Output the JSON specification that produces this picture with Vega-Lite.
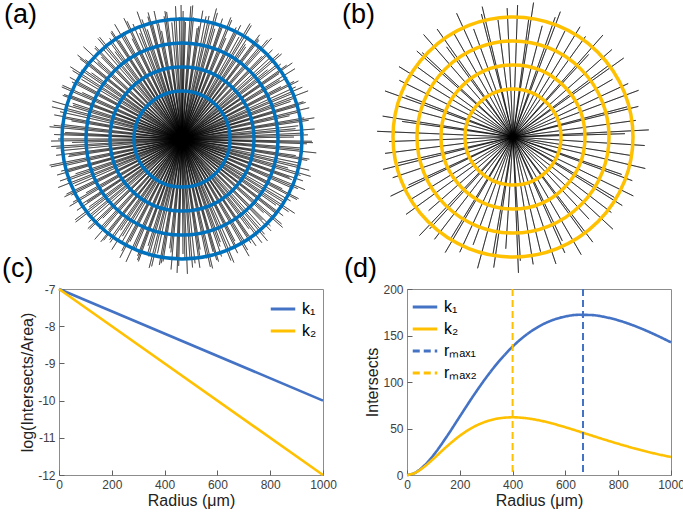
{
"$schema":"https://vega.github.io/schema/vega-lite/v6.json",
"padding":{"left":1,"top":1,"right":0,"bottom":0},
"background":"white",
"config":{
 "font":"Liberation Sans",
 "view":{"stroke":"#8c8c8c","strokeWidth":1},
 "title":{"fontSize":27,"fontWeight":"normal","anchor":"start","frame":"group","baseline":"alphabetic","color":"#000000","font":"Liberation Sans"},
 "axis":{"grid":false,"domain":false,"ticks":true,"zindex":1,"tickColor":"#606060","tickWidth":1,"tickSize":-5,"labelFontSize":12,"labelColor":"#404040","labelPadding":9,"labelFlush":false,"titleFontSize":16,"titleFontWeight":"normal","titleColor":"#222222","titlePadding":2,"labelFont":"Liberation Sans","titleFont":"Liberation Sans"},
 "legend":{"symbolType":"stroke","symbolSize":600,"symbolStrokeWidth":3,"labelFontSize":16,"labelColor":"#000000","labelFont":"Liberation Sans","rowPadding":0,"labelOffset":5,"padding":0}
},
"spacing":-23,
"resolve":{"scale":{"color":"independent","strokeDash":"independent"},"legend":{"color":"independent","strokeDash":"independent"}},
"vconcat":[
{"spacing":24,"hconcat":[
 {"width":246,"height":276,"view":{"stroke":null},
  "title":{"text":"(a)","offset":-28,"dx":-55},
  "layer":[
   {"data":{"values":[
{"ang":0.5,"len":128},{"ang":1.7,"len":117},{"ang":3.8,"len":133},{"ang":5.4,"len":122},{"ang":7.8,"len":112},{"ang":9.2,"len":130},{"ang":11.1,"len":125},{"ang":13.3,"len":119},{"ang":14.8,"len":135},{"ang":16.6,"len":115},
{"ang":18.6,"len":127},{"ang":19.8,"len":121},{"ang":21.9,"len":131},{"ang":23.5,"len":110},{"ang":25.9,"len":124},{"ang":27.3,"len":128},{"ang":29.2,"len":117},{"ang":31.4,"len":133},{"ang":32.9,"len":122},{"ang":34.7,"len":112},
{"ang":36.7,"len":130},{"ang":37.9,"len":125},{"ang":40.0,"len":119},{"ang":41.6,"len":135},{"ang":44.0,"len":115},{"ang":45.4,"len":127},{"ang":47.3,"len":121},{"ang":49.5,"len":131},{"ang":51.0,"len":110},{"ang":52.8,"len":124},
{"ang":54.8,"len":128},{"ang":56.0,"len":117},{"ang":58.1,"len":133},{"ang":59.7,"len":122},{"ang":62.1,"len":112},{"ang":63.5,"len":130},{"ang":65.4,"len":125},{"ang":67.6,"len":119},{"ang":69.1,"len":135},{"ang":70.9,"len":115},
{"ang":72.9,"len":127},{"ang":74.1,"len":121},{"ang":76.2,"len":131},{"ang":77.8,"len":110},{"ang":80.2,"len":124},{"ang":81.6,"len":128},{"ang":83.5,"len":117},{"ang":85.7,"len":133},{"ang":87.2,"len":122},{"ang":89.0,"len":112},
{"ang":91.0,"len":130},{"ang":92.2,"len":125},{"ang":94.3,"len":119},{"ang":95.9,"len":135},{"ang":98.3,"len":115},{"ang":99.7,"len":127},{"ang":101.6,"len":121},{"ang":103.8,"len":131},{"ang":105.3,"len":110},{"ang":107.1,"len":124},
{"ang":109.1,"len":128},{"ang":110.3,"len":117},{"ang":112.4,"len":133},{"ang":114.0,"len":122},{"ang":116.4,"len":112},{"ang":117.8,"len":130},{"ang":119.7,"len":125},{"ang":121.9,"len":119},{"ang":123.4,"len":135},{"ang":125.2,"len":115},
{"ang":127.2,"len":127},{"ang":128.4,"len":121},{"ang":130.5,"len":131},{"ang":132.1,"len":110},{"ang":134.5,"len":124},{"ang":135.9,"len":128},{"ang":137.8,"len":117},{"ang":140.0,"len":133},{"ang":141.5,"len":122},{"ang":143.3,"len":112},
{"ang":145.3,"len":130},{"ang":146.5,"len":125},{"ang":148.6,"len":119},{"ang":150.2,"len":135},{"ang":152.6,"len":115},{"ang":154.0,"len":127},{"ang":155.9,"len":121},{"ang":158.1,"len":131},{"ang":159.6,"len":110},{"ang":161.4,"len":124},
{"ang":163.4,"len":128},{"ang":164.6,"len":117},{"ang":166.7,"len":133},{"ang":168.3,"len":122},{"ang":170.7,"len":112},{"ang":172.1,"len":130},{"ang":174.0,"len":125},{"ang":176.2,"len":119},{"ang":177.7,"len":135},{"ang":179.5,"len":115},
{"ang":181.5,"len":127},{"ang":182.7,"len":121},{"ang":184.8,"len":131},{"ang":186.4,"len":110},{"ang":188.8,"len":124},{"ang":190.2,"len":128},{"ang":192.1,"len":117},{"ang":194.3,"len":133},{"ang":195.8,"len":122},{"ang":197.6,"len":112},
{"ang":199.6,"len":130},{"ang":200.8,"len":125},{"ang":202.9,"len":119},{"ang":204.5,"len":135},{"ang":206.9,"len":115},{"ang":208.3,"len":127},{"ang":210.2,"len":121},{"ang":212.4,"len":131},{"ang":213.9,"len":110},{"ang":215.7,"len":124},
{"ang":217.7,"len":128},{"ang":218.9,"len":117},{"ang":221.0,"len":133},{"ang":222.6,"len":122},{"ang":225.0,"len":112},{"ang":226.4,"len":130},{"ang":228.3,"len":125},{"ang":230.5,"len":119},{"ang":232.0,"len":135},{"ang":233.8,"len":115},
{"ang":235.8,"len":127},{"ang":237.0,"len":121},{"ang":239.1,"len":131},{"ang":240.7,"len":110},{"ang":243.1,"len":124},{"ang":244.5,"len":128},{"ang":246.4,"len":117},{"ang":248.6,"len":133},{"ang":250.1,"len":122},{"ang":251.9,"len":112},
{"ang":253.9,"len":130},{"ang":255.1,"len":125},{"ang":257.2,"len":119},{"ang":258.8,"len":135},{"ang":261.2,"len":115},{"ang":262.6,"len":127},{"ang":264.5,"len":121},{"ang":266.7,"len":131},{"ang":268.2,"len":110},{"ang":270.0,"len":124},
{"ang":272.0,"len":128},{"ang":273.2,"len":117},{"ang":275.3,"len":133},{"ang":276.9,"len":122},{"ang":279.3,"len":112},{"ang":280.7,"len":130},{"ang":282.6,"len":125},{"ang":284.8,"len":119},{"ang":286.3,"len":135},{"ang":288.1,"len":115},
{"ang":290.1,"len":127},{"ang":291.3,"len":121},{"ang":293.4,"len":131},{"ang":295.0,"len":110},{"ang":297.4,"len":124},{"ang":298.8,"len":128},{"ang":300.7,"len":117},{"ang":302.9,"len":133},{"ang":304.4,"len":122},{"ang":306.2,"len":112},
{"ang":308.2,"len":130},{"ang":309.4,"len":125},{"ang":311.5,"len":119},{"ang":313.1,"len":135},{"ang":315.5,"len":115},{"ang":316.9,"len":127},{"ang":318.8,"len":121},{"ang":321.0,"len":131},{"ang":322.5,"len":110},{"ang":324.3,"len":124},
{"ang":326.3,"len":128},{"ang":327.5,"len":117},{"ang":329.6,"len":133},{"ang":331.2,"len":122},{"ang":333.6,"len":112},{"ang":335.0,"len":130},{"ang":336.9,"len":125},{"ang":339.1,"len":119},{"ang":340.6,"len":135},{"ang":342.4,"len":115},
{"ang":344.4,"len":127},{"ang":345.6,"len":121},{"ang":347.7,"len":131},{"ang":349.3,"len":110},{"ang":351.7,"len":124},{"ang":353.1,"len":128},{"ang":355.0,"len":117},{"ang":357.2,"len":133},{"ang":358.7,"len":122},
{"ang":1.1,"len":121},{"ang":4.6,"len":134},{"ang":8.5,"len":114},{"ang":12.4,"len":126},{"ang":15.7,"len":131},
{"ang":19.2,"len":118},{"ang":22.7,"len":129},{"ang":26.6,"len":121},{"ang":30.5,"len":134},{"ang":33.8,"len":114},
{"ang":37.3,"len":126},{"ang":40.8,"len":131},{"ang":44.7,"len":118},{"ang":48.6,"len":129},{"ang":51.9,"len":121},
{"ang":55.4,"len":134},{"ang":58.9,"len":114},{"ang":62.8,"len":126},{"ang":66.7,"len":131},{"ang":70.0,"len":118},
{"ang":73.5,"len":129},{"ang":77.0,"len":121},{"ang":80.9,"len":134},{"ang":84.8,"len":114},{"ang":88.1,"len":126},
{"ang":91.6,"len":131},{"ang":95.1,"len":118},{"ang":99.0,"len":129},{"ang":102.9,"len":121},{"ang":106.2,"len":134},
{"ang":109.7,"len":114},{"ang":113.2,"len":126},{"ang":117.1,"len":131},{"ang":121.0,"len":118},{"ang":124.3,"len":129},
{"ang":127.8,"len":121},{"ang":131.3,"len":134},{"ang":135.2,"len":114},{"ang":139.1,"len":126},{"ang":142.4,"len":131},
{"ang":145.9,"len":118},{"ang":149.4,"len":129},{"ang":153.3,"len":121},{"ang":157.2,"len":134},{"ang":160.5,"len":114},
{"ang":164.0,"len":126},{"ang":167.5,"len":131},{"ang":171.4,"len":118},{"ang":175.3,"len":129},{"ang":178.6,"len":121},
{"ang":182.1,"len":134},{"ang":185.6,"len":114},{"ang":189.5,"len":126},{"ang":193.4,"len":131},{"ang":196.7,"len":118},
{"ang":200.2,"len":129},{"ang":203.7,"len":121},{"ang":207.6,"len":134},{"ang":211.5,"len":114},{"ang":214.8,"len":126},
{"ang":218.3,"len":131},{"ang":221.8,"len":118},{"ang":225.7,"len":129},{"ang":229.6,"len":121},{"ang":232.9,"len":134},
{"ang":236.4,"len":114},{"ang":239.9,"len":126},{"ang":243.8,"len":131},{"ang":247.7,"len":118},{"ang":251.0,"len":129},
{"ang":254.5,"len":121},{"ang":258.0,"len":134},{"ang":261.9,"len":114},{"ang":265.8,"len":126},{"ang":269.1,"len":131},
{"ang":272.6,"len":118},{"ang":276.1,"len":129},{"ang":280.0,"len":121},{"ang":283.9,"len":134},{"ang":287.2,"len":114},
{"ang":290.7,"len":126},{"ang":294.2,"len":131},{"ang":298.1,"len":118},{"ang":302.0,"len":129},{"ang":305.3,"len":121},
{"ang":308.8,"len":134},{"ang":312.3,"len":114},{"ang":316.2,"len":126},{"ang":320.1,"len":131},{"ang":323.4,"len":118},
{"ang":326.9,"len":129},{"ang":330.4,"len":121},{"ang":334.3,"len":134},{"ang":338.2,"len":114},{"ang":341.5,"len":126},
{"ang":345.0,"len":131},{"ang":348.5,"len":118},{"ang":352.4,"len":129},{"ang":356.3,"len":121},{"ang":359.6,"len":134}
   ]},
    "mark":{"type":"arc","filled":false,"color":"#000000","strokeWidth":0.45},
    "encoding":{
     "theta":{"field":"ang","type":"quantitative","stack":null,"scale":{"domain":[0,360],"range":[0,6.2832]}},
     "theta2":{"field":"ang"},
     "radius":{"field":"len","type":"quantitative","stack":null,"scale":{"type":"linear","domain":[0,140],"range":[0,140],"zero":true}}
    }},
   {"data":{"values":[{"r":48},{"r":72},{"r":96},{"r":120}]},
    "mark":{"type":"arc","filled":false,"color":"#0072BD","strokeWidth":3.5,"theta":0,"theta2":6.2832},
    "encoding":{"radius":{"field":"r","type":"quantitative","stack":null}}}
  ]},
 {"width":300,"height":272,"view":{"stroke":null},
  "title":{"text":"(b)","offset":-28,"dx":-21},
  "layer":[
   {"data":{"values":[
{"ang":2.0,"len":132},{"ang":7.6,"len":121},{"ang":8.7,"len":136},{"ang":14.7,"len":115},{"ang":19.4,"len":127},{"ang":20.7,"len":134},{"ang":26.1,"len":118},{"ang":31.3,"len":129},
{"ang":35.8,"len":124},{"ang":41.4,"len":136},{"ang":42.5,"len":112},{"ang":48.5,"len":132},{"ang":53.2,"len":121},{"ang":54.5,"len":136},{"ang":59.9,"len":115},{"ang":65.1,"len":127},
{"ang":69.6,"len":134},{"ang":75.2,"len":118},{"ang":76.3,"len":129},{"ang":82.3,"len":124},{"ang":87.0,"len":136},{"ang":88.3,"len":112},{"ang":93.7,"len":132},{"ang":98.9,"len":121},
{"ang":103.4,"len":136},{"ang":109.0,"len":115},{"ang":110.1,"len":127},{"ang":116.1,"len":134},{"ang":120.8,"len":118},{"ang":122.1,"len":129},{"ang":127.5,"len":124},{"ang":132.7,"len":136},
{"ang":137.2,"len":112},{"ang":142.8,"len":132},{"ang":143.9,"len":121},{"ang":149.9,"len":136},{"ang":154.6,"len":115},{"ang":155.9,"len":127},{"ang":161.3,"len":134},{"ang":166.5,"len":118},
{"ang":171.0,"len":129},{"ang":176.6,"len":124},{"ang":177.7,"len":136},{"ang":183.7,"len":112},{"ang":188.4,"len":132},{"ang":189.7,"len":121},{"ang":195.1,"len":136},{"ang":200.3,"len":115},
{"ang":204.8,"len":127},{"ang":210.4,"len":134},{"ang":211.5,"len":118},{"ang":217.5,"len":129},{"ang":222.2,"len":124},{"ang":223.5,"len":136},{"ang":228.9,"len":112},{"ang":234.1,"len":132},
{"ang":238.6,"len":121},{"ang":244.2,"len":136},{"ang":245.3,"len":115},{"ang":251.3,"len":127},{"ang":256.0,"len":134},{"ang":257.3,"len":118},{"ang":262.7,"len":129},{"ang":267.9,"len":124},
{"ang":272.4,"len":136},{"ang":278.0,"len":112},{"ang":279.1,"len":132},{"ang":285.1,"len":121},{"ang":289.8,"len":136},{"ang":291.1,"len":115},{"ang":296.5,"len":127},{"ang":301.7,"len":134},
{"ang":306.2,"len":118},{"ang":311.8,"len":129},{"ang":312.9,"len":124},{"ang":318.9,"len":136},{"ang":323.6,"len":112},{"ang":324.9,"len":132},{"ang":330.3,"len":121},{"ang":335.5,"len":136},
{"ang":340.0,"len":115},{"ang":345.6,"len":127},{"ang":346.7,"len":134},{"ang":352.7,"len":118},{"ang":357.4,"len":129}
   ]},
    "mark":{"type":"arc","filled":false,"color":"#000000","strokeWidth":0.55},
    "encoding":{
     "theta":{"field":"ang","type":"quantitative","stack":null,"scale":{"domain":[0,360],"range":[0,6.2832]}},
     "theta2":{"field":"ang"},
     "radius":{"field":"len","type":"quantitative","stack":null,"scale":{"type":"linear","domain":[0,140],"range":[0,140],"zero":true}}
    }},
   {"data":{"values":[{"r":48},{"r":72},{"r":96},{"r":120}]},
    "mark":{"type":"arc","filled":false,"color":"#FFC000","strokeWidth":3.5,"theta":0,"theta2":6.2832},
    "encoding":{"radius":{"field":"r","type":"quantitative","stack":null}}}
  ]}
]},
{"spacing":6,
 "resolve":{"scale":{"color":"independent","strokeDash":"independent"},"legend":{"color":"independent","strokeDash":"independent"}},
 "hconcat":[
 {"width":264,"height":186,
  "title":{"text":"(c)","offset":0,"dx":-57},
  "data":{"values":[
   {"r":0,"v":-7,"s":"k₁"},{"r":1000,"v":-10,"s":"k₁"},
   {"r":0,"v":-7,"s":"k₂"},{"r":1000,"v":-12,"s":"k₂"}]},
  "mark":{"type":"line","strokeWidth":2.6},
  "encoding":{
   "x":{"field":"r","type":"quantitative","scale":{"domain":[0,1000],"nice":false},"axis":{"title":"Radius (μm)","values":[0,200,400,600,800,1000],"format":"d"}},
   "y":{"field":"v","type":"quantitative","scale":{"domain":[-12,-7],"nice":false,"zero":false},"axis":{"title":"log(Intersects/Area)","values":[-7,-8,-9,-10,-11,-12],"labelExpr":"'' + datum.value"}},
   "color":{"field":"s","type":"nominal","scale":{"domain":["k₁","k₂"],"range":["#4472C4","#FFC000"]},"legend":{"title":null,"orient":"top-right","offset":6}}
  }},
 {"width":264,"height":186,
  "title":{"text":"(d)","offset":0,"dx":-63},
  "layer":[
   {"data":{"values":[
    {"r":0,"n":0,"s":"k₁"},{"r":25,"n":1.66,"s":"k₁"},{"r":50,"n":6.16,"s":"k₁"},{"r":75,"n":12.87,"s":"k₁"},{"r":100,"n":21.22,"s":"k₁"},{"r":150,"n":41.10,"s":"k₁"},{"r":200,"n":62.89,"s":"k₁"},{"r":250,"n":84.58,"s":"k₁"},{"r":300,"n":104.83,"s":"k₁"},{"r":350,"n":122.80,"s":"k₁"},{"r":400,"n":138.06,"s":"k₁"},{"r":450,"n":150.37,"s":"k₁"},{"r":500,"n":159.79,"s":"k₁"},{"r":550,"n":166.39,"s":"k₁"},{"r":600,"n":170.47,"s":"k₁"},{"r":650,"n":172.24,"s":"k₁"},{"r":700,"n":171.97,"s":"k₁"},{"r":750,"n":169.85,"s":"k₁"},{"r":800,"n":166.33,"s":"k₁"},{"r":850,"n":161.61,"s":"k₁"},{"r":900,"n":155.96,"s":"k₁"},{"r":950,"n":149.54,"s":"k₁"},{"r":1000,"n":142.64,"s":"k₁"},
    {"r":0,"n":0,"s":"k₂"},{"r":25,"n":1.58,"s":"k₂"},{"r":50,"n":5.58,"s":"k₂"},{"r":75,"n":11.07,"s":"k₂"},{"r":100,"n":17.38,"s":"k₂"},{"r":150,"n":30.45,"s":"k₂"},{"r":200,"n":42.16,"s":"k₂"},{"r":250,"n":51.30,"s":"k₂"},{"r":300,"n":57.53,"s":"k₂"},{"r":350,"n":60.99,"s":"k₂"},{"r":400,"n":62.03,"s":"k₂"},{"r":450,"n":61.14,"s":"k₂"},{"r":500,"n":58.79,"s":"k₂"},{"r":550,"n":55.40,"s":"k₂"},{"r":600,"n":51.35,"s":"k₂"},{"r":650,"n":46.93,"s":"k₂"},{"r":700,"n":42.39,"s":"k₂"},{"r":750,"n":37.90,"s":"k₂"},{"r":800,"n":33.59,"s":"k₂"},{"r":850,"n":29.52,"s":"k₂"},{"r":900,"n":25.78,"s":"k₂"},{"r":950,"n":22.37,"s":"k₂"},{"r":1000,"n":19.30,"s":"k₂"}
   ]},
    "mark":{"type":"line","strokeWidth":2.6,"interpolate":"monotone"},
    "encoding":{
     "x":{"field":"r","type":"quantitative","scale":{"domain":[0,1000],"nice":false},"axis":{"title":"Radius (μm)","values":[0,200,400,600,800,1000],"format":"d"}},
     "y":{"field":"n","type":"quantitative","scale":{"domain":[0,200],"nice":false},"axis":{"title":"Intersects","values":[0,50,100,150,200]}},
     "color":{"field":"s","type":"nominal","scale":{"domain":["k₁","k₂","rₘₐₓ₁","rₘₐₓ₂"],"range":["#4472C4","#FFC000","#4472C4","#FFC000"]},"legend":{"title":null,"orient":"top-left","offset":4}},
     "strokeDash":{"field":"s","type":"nominal","scale":{"domain":["k₁","k₂","rₘₐₓ₁","rₘₐₓ₂"],"range":[[1,0],[1,0],[7,4],[7,4]]},"legend":{"title":null,"orient":"top-left","offset":4}}
    }},
   {"data":{"values":[{"r":666.7,"s":"rₘₐₓ₁"},{"r":400,"s":"rₘₐₓ₂"}]},
    "mark":{"type":"rule","strokeWidth":2},
    "encoding":{
     "x":{"field":"r","type":"quantitative"},
     "color":{"field":"s","type":"nominal"},
     "strokeDash":{"field":"s","type":"nominal"}
    }}
  ]}
]}
]
}
